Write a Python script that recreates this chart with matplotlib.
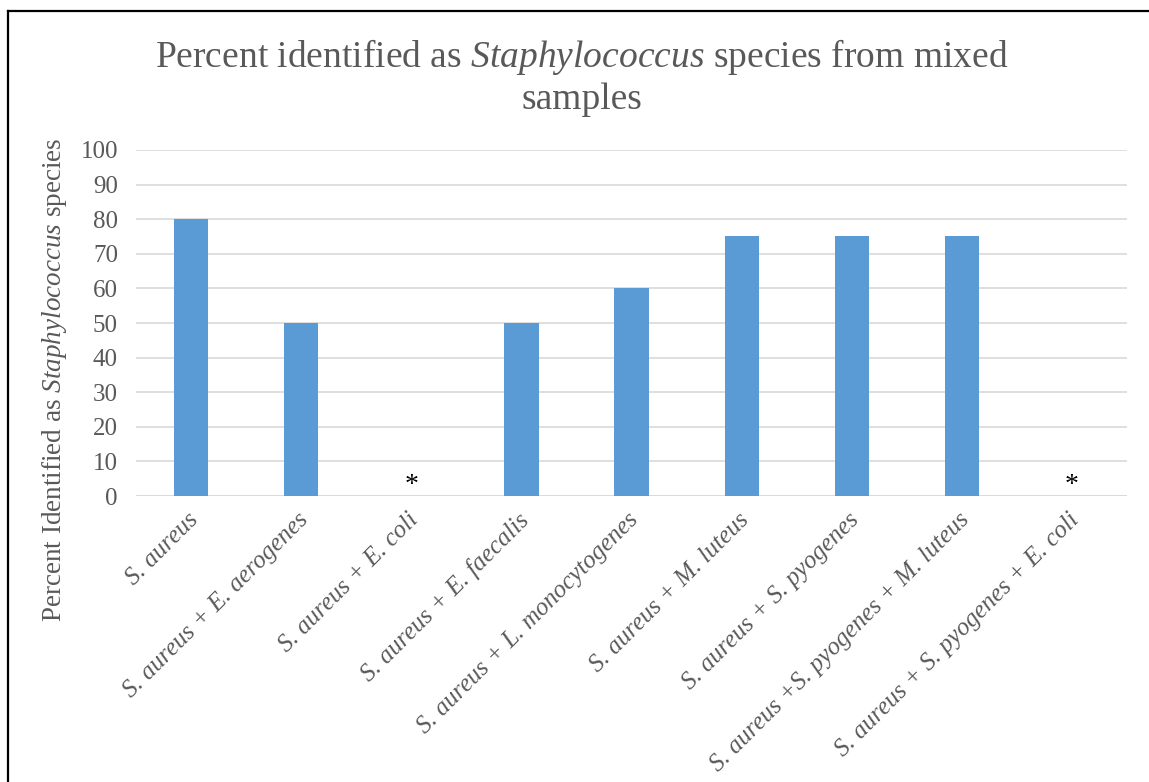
import matplotlib
matplotlib.use("Agg")
import matplotlib.pyplot as plt
from matplotlib.lines import Line2D

plt.rcParams['font.family'] = ['Liberation Serif', 'DejaVu Serif']
plt.rcParams['mathtext.fontset'] = 'custom'
plt.rcParams['mathtext.rm'] = 'Liberation Serif'
plt.rcParams['mathtext.it'] = 'Liberation Serif:italic'

# percent of isolates identified as Staphylococcus, per sample mix
samples = ["S. aureus",
           "S. aureus + E. aerogenes",
           "S. aureus + E. coli",
           "S. aureus + E. faecalis",
           "S. aureus + L. monocytogenes",
           "S. aureus + M. luteus",
           "S. aureus + S. pyogenes",
           "S. aureus +S. pyogenes + M. luteus",
           "S. aureus + S. pyogenes + E. coli"]
percent = [80, 50, 0, 50, 60, 75, 75, 75, 0]
yticks = [0, 10, 20, 30, 40, 50, 60, 70, 80, 90, 100]

grey = '#595959'
blue = '#5B9BD5'

fig = plt.figure(figsize=(11.49, 7.82), dpi=100)
ax = fig.add_axes([0.1184, 0.3657, 0.8625, 0.4425])

x = list(range(len(samples)))
ax.bar(x, percent, width=0.31, color=blue, zorder=3)

# no growth -> asterisk instead of a bar
for i, v in enumerate(percent):
    if v == 0:
        ax.annotate('*', xy=(i, 0), xytext=(0, -2), textcoords='offset pixels',
                    ha='center', va='bottom', fontsize=20, color='black', zorder=4)

ax.set_xlim(-0.5, len(samples) - 0.5)
ax.set_ylim(0, 100)
ax.set_yticks(yticks)
ax.set_xticks([])
ax.yaxis.grid(True, color='#D9D9D9', linewidth=1.2, zorder=0)
ax.tick_params(axis='y', length=0, pad=13, labelsize=18, labelcolor=grey)
for s in ax.spines.values():
    s.set_visible(False)
ax.axhline(0, color='#D9D9D9', linewidth=1.2, zorder=1)

for i, lab in enumerate(samples):
    ax.annotate(lab, xy=(i, 0), xycoords=('data', 'axes fraction'),
                xytext=(-4, -13), textcoords='offset pixels',
                rotation=45, rotation_mode='anchor', ha='right', va='top',
                fontsize=18, style='italic', color=grey)

fig.text(0.5065, 0.9015,
         "Percent identified as $\\mathit{Staphylococcus}$ species from mixed\nsamples",
         ha='center', va='center', fontsize=27, color=grey, linespacing=1.2)

fig.text(0.047, 0.514, "Percent Identified as $\\mathit{Staphylococcus}$ species",
         rotation=90, ha='center', va='center', fontsize=19.5, color=grey)

# frame edges (left and top)
fig.add_artist(Line2D([8 / 1149, 8 / 1149], [0, 1 - 11 / 782], transform=fig.transFigure,
                      color='black', linewidth=1.6))
fig.add_artist(Line2D([8 / 1149, 1], [1 - 11 / 782, 1 - 11 / 782], transform=fig.transFigure,
                      color='black', linewidth=1.6))

fig.savefig('out.png', dpi=100)
